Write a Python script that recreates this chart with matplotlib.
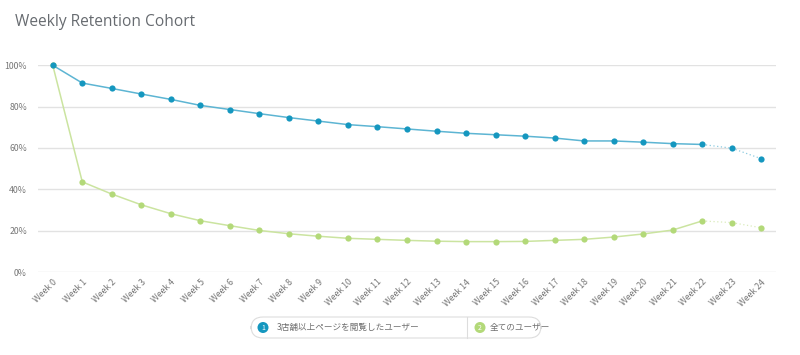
import matplotlib.pyplot as plt
from matplotlib.patches import FancyBboxPatch, Ellipse
from matplotlib.lines import Line2D

plt.rcParams['font.family'] = ['Noto Sans CJK JP', 'DejaVu Sans']

# data
weeks = [f"Week {i}" for i in range(25)]
y_ticks = [0, 20, 40, 60, 80, 100]
y_labels = ["0%", "20%", "40%", "60%", "80%", "100%"]

series1_name = "3店舗以上ページを閲覧したユーザー"
series1 = [100, 91.4, 88.8, 86.1, 83.5, 80.6, 78.6, 76.6, 74.7, 73.0, 71.3,
           70.3, 69.2, 68.1, 67.1, 66.4, 65.7, 64.8, 63.4, 63.4, 62.8, 62.1,
           61.7, 59.9, 54.8]
series2_name = "全てのユーザー"
series2 = [100, 43.6, 37.7, 32.5, 28.2, 24.8, 22.4, 20.1, 18.5, 17.3, 16.3,
           15.8, 15.3, 14.9, 14.7, 14.7, 14.8, 15.3, 15.8, 16.9, 18.4, 20.3,
           24.7, 23.9, 21.4]

blue = "#1597bf"
blue_line = "#5db5d3"
green = "#b3d979"
green_line = "#cbe4a0"
n_solid = 23  # last two segments are dotted (incomplete weeks)

fig = plt.figure(figsize=(8, 3.55), dpi=100)
ax = fig.add_axes([0.0475, 0.2338, 0.9225, 0.5823])

x = list(range(len(weeks)))
for vals, c_pt, c_ln in [(series2, green, green_line), (series1, blue, blue_line)]:
    ax.plot(x[:n_solid], vals[:n_solid], color=c_ln, lw=1.1, zorder=2, clip_on=False)
    ax.plot(x[n_solid - 1:], vals[n_solid - 1:], color=c_ln, lw=0.9, ls=(0, (1, 2)),
            alpha=0.7, zorder=2, clip_on=False)
    ax.scatter(x, vals, s=20, color=c_pt, zorder=3, clip_on=False, linewidths=0)

ax.set_xlim(-0.5, 24.5)
ax.set_ylim(0, 100)
ax.set_yticks(y_ticks)
ax.set_yticklabels(y_labels)
ax.set_xticks(x)
ax.set_xticklabels(weeks, rotation=45, ha="right", va="top", rotation_mode="anchor")
ax.tick_params(axis="both", length=0, labelsize=6.3, colors="#777777")
ax.tick_params(axis="x", pad=4)
ax.tick_params(axis="y", pad=8)
ax.grid(axis="y", color="#e2e2e2", lw=1)
ax.set_axisbelow(True)
for s in ax.spines.values():
    s.set_visible(False)

fig.text(15 / 800, 1 - 22 / 355, "Weekly Retention Cohort", fontsize=11.2, color="#676b70",
         va="center", ha="left", family=["Open Sans", "DejaVu Sans"], weight="medium")

# legend box
W, H = 800, 355
box = FancyBboxPatch((251 / W, 1 - 338 / H), (541 - 251) / W, 21 / H,
                     boxstyle="round,pad=0,rounding_size=0.015", transform=fig.transFigure,
                     facecolor="white", edgecolor="#dddddd", lw=0.8,
                     mutation_aspect=W / H)
fig.patches.append(box)
fig.lines.append(Line2D([467 / W, 467 / W], [1 - 338 / H, 1 - 317 / H],
                        transform=fig.transFigure, color="#dddddd", lw=0.8))
cy = 1 - 327.5 / H
for cx, col, num, label, tx in [(263, blue, "1", series1_name, 277),
                                (480, green, "2", series2_name, 490)]:
    fig.patches.append(Ellipse((cx / W, cy), 11 / W, 11 / H, transform=fig.transFigure,
                               facecolor=col, edgecolor="none", zorder=1))
    fig.text(cx / W, cy, num, fontsize=5, color="white", ha="center", va="center", zorder=5)
    fig.text(tx / W, cy, label, fontsize=6.2, color="#707070", ha="left", va="center")

fig.savefig("out.png", dpi=100)
